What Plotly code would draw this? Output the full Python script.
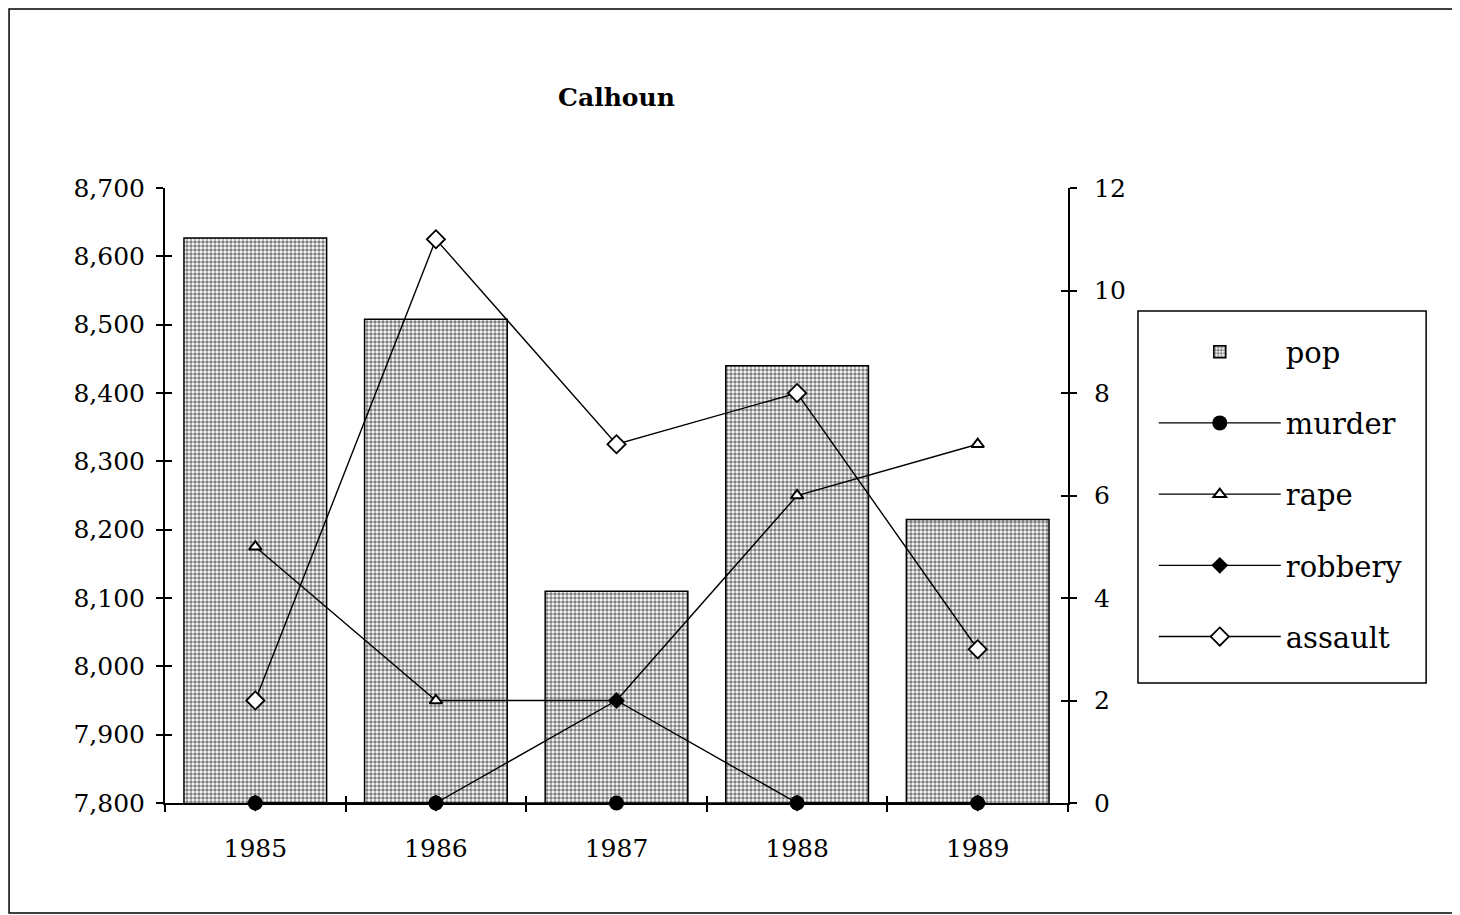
import plotly.graph_objects as go

# Calhoun county: population and crime counts
years = ["1985", "1986", "1987", "1988", "1989"]
pop = [8627, 8508, 8110, 8440, 8215]
murder = [0, 0, 0, 0, 0]
rape = [5, 2, 2, 6, 7]
robbery = [0, 0, 2, 0, 0]
assault = [2, 11, 7, 8, 3]

serif = "DejaVu Serif"

fig = go.Figure()
fig.add_trace(
    go.Bar(
        x=years,
        y=pop,
        name="pop",
        width=0.79,
        marker=dict(
            color="white",
            line=dict(color="black", width=1.5),
            pattern=dict(shape=".", fgcolor="black", bgcolor="white", size=4, solidity=0.6),
        ),
        legendgroup="a",
    )
)

line_series = [
    ("murder", murder, dict(symbol="circle", size=15, color="black")),
    ("rape", rape, dict(symbol="triangle-up", size=11, color="white", line=dict(color="black", width=2))),
    ("robbery", robbery, dict(symbol="diamond", size=13, color="black")),
    ("assault", assault, dict(symbol="diamond", size=14, color="white", line=dict(color="black", width=1.8))),
]
for i, (name, vals, mk) in enumerate(line_series):
    fig.add_trace(
        go.Scatter(
            x=years,
            y=vals,
            name=name,
            mode="lines+markers",
            line=dict(color="black", width=1.4),
            marker=mk,
            yaxis="y2",
            cliponaxis=False,
            legendgroup=str(i),
        )
    )

# empty traces so the overlay axes (inner tick halves) get drawn
fig.add_trace(go.Scatter(x=[], y=[], xaxis="x2", yaxis="y3", showlegend=False, hoverinfo="skip"))
fig.add_trace(go.Scatter(x=[], y=[], xaxis="x2", yaxis="y4", showlegend=False, hoverinfo="skip"))

axis_common = dict(
    showgrid=False,
    zeroline=False,
    showline=True,
    linecolor="black",
    linewidth=2,
    ticks="outside",
    ticklen=7,
    tickwidth=1.5,
    tickcolor="black",
    tickfont=dict(family=serif, size=25, color="black"),
)
# inside halves of the crossing ticks
inner = dict(
    showgrid=False,
    zeroline=False,
    showline=False,
    ticks="inside",
    ticklen=7,
    tickwidth=1.5,
    tickcolor="black",
    showticklabels=False,
)

fig.update_layout(
    width=1460,
    height=915,
    paper_bgcolor="white",
    plot_bgcolor="white",
    margin=dict(l=157, r=400, t=180, b=120),
    title=dict(
        text="<b>Calhoun</b>",
        x=0.5,
        xref="paper",
        y=0.902,
        yanchor="middle",
        font=dict(family=serif, size=25, color="black"),
    ),
    bargap=0.21,
    showlegend=True,
    xaxis=dict(**axis_common, type="category", tickson="boundaries", ticklabelstandoff=22),
    yaxis=dict(**axis_common, range=[7800, 8700], dtick=100, tickformat=",", ticklabelstandoff=6),
    yaxis2=dict(**axis_common, range=[0, 12], dtick=2, overlaying="y", side="right", ticklabelstandoff=12),
    xaxis2=dict(**inner, overlaying="x", range=[-0.5, 4.5], tickvals=[0.5, 1.5, 2.5, 3.5], anchor="y3", side="bottom"),
    yaxis3=dict(**inner, overlaying="y", range=[7800, 8700], dtick=100, side="left", anchor="x2"),
    yaxis4=dict(**inner, overlaying="y", range=[0, 12], dtick=2, side="right", anchor="x2"),
    legend=dict(
        x=1.095,
        y=0.775,
        xanchor="left",
        yanchor="top",
        borderwidth=0,
        bgcolor="rgba(0,0,0,0)",
        font=dict(family=serif, size=29, color="black"),
        tracegroupgap=30.5,
        itemwidth=122,
    ),
    shapes=[
        # outer frame
        dict(type="rect", xref="paper", yref="paper",
             x0=-0.1727, x1=1.431, y0=-0.179, y1=1.291,
             line=dict(color="black", width=1.5)),
        # legend box
        dict(type="rect", xref="paper", yref="paper",
             x0=1.0775, x1=1.3966, y0=0.195, y1=0.8,
             line=dict(color="black", width=1.5)),
    ],
)

fig.write_html("out.html")
